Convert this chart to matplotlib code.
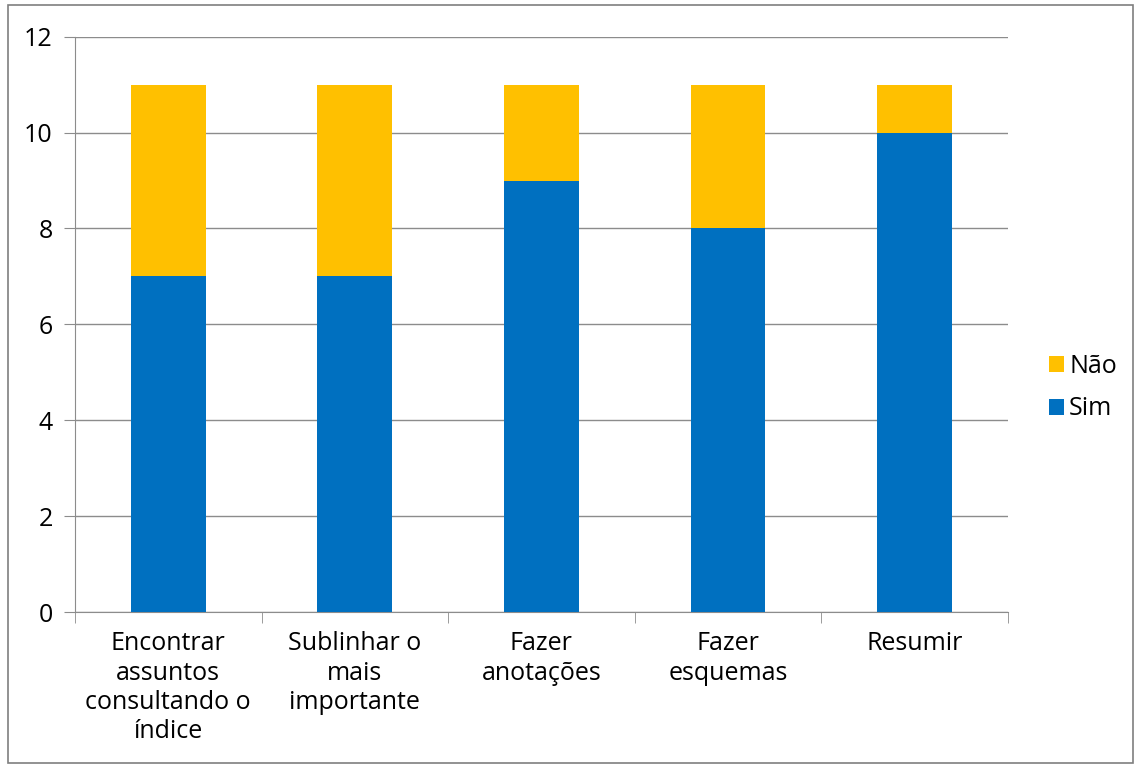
import numpy as np
import matplotlib.pyplot as plt
from matplotlib.patches import Rectangle

categories = ["Encontrar\nassuntos\nconsultando o\níndice",
              "Sublinhar o\nmais\nimportante",
              "Fazer\nanotações",
              "Fazer\nesquemas",
              "Resumir"]
sim = [7, 7, 9, 8, 10]
nao = [4, 4, 2, 3, 1]
y_ticks = [0, 2, 4, 6, 8, 10, 12]

plt.rcParams['font.family'] = ['Open Sans', 'DejaVu Sans']

fig = plt.figure(figsize=(11.35, 7.65), dpi=100)
fig.patches.append(Rectangle((0.007, 0.003), 0.991, 0.99, transform=fig.transFigure,
                             fill=False, edgecolor='#7f7f7f', linewidth=1.2))
ax = fig.add_axes([0.066, 0.2, 0.822, 0.752])

x = np.arange(len(categories))
ax.bar(x, sim, width=0.4, color='#0070C0', label='Sim', zorder=3)
ax.bar(x, nao, width=0.4, bottom=sim, color='#FFC000', label='Não', zorder=3)

ax.set_xlim(-0.5, len(categories) - 0.5)
ax.set_ylim(0, 12)
ax.set_yticks(y_ticks)
ax.yaxis.grid(True, color='#8c8c8c', linewidth=1.0, zorder=0)
ax.set_axisbelow(True)

ax.set_xticks(x)
ax.set_xticklabels(categories, fontsize=18, linespacing=1.22)
ax.set_xticks(np.arange(len(categories) + 1) - 0.5, minor=True)
ax.tick_params(axis='x', which='major', length=0, pad=14)
ax.tick_params(axis='x', which='minor', length=8, color='#8c8c8c', direction='out')
ax.tick_params(axis='y', labelsize=18, length=8, color='#8c8c8c', direction='out', pad=8)

for side in ['top', 'right']:
    ax.spines[side].set_visible(False)
for side in ['left', 'bottom']:
    ax.spines[side].set_color('#8c8c8c')

handles, labels = ax.get_legend_handles_labels()
ax.legend(handles[::-1], labels[::-1], loc='center left', bbox_to_anchor=(1.02, 0.39),
          frameon=False, fontsize=18, handlelength=0.6, handleheight=0.6,
          handletextpad=0.2, labelspacing=0.7)

fig.savefig('out.png', dpi=100)
